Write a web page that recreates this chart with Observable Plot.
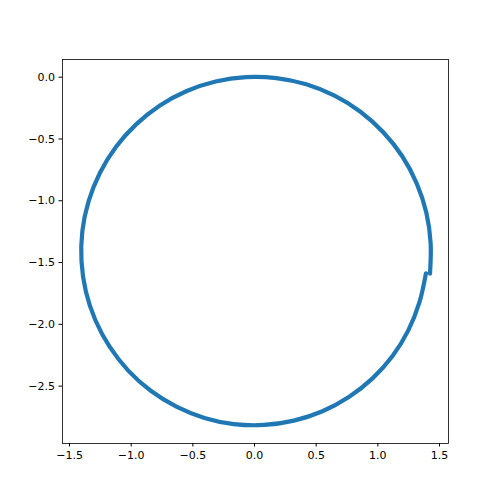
<!DOCTYPE html>
<html>
<head>
<meta charset="utf-8">
<script src="https://cdn.jsdelivr.net/npm/d3@7"></script>
<script src="https://cdn.jsdelivr.net/npm/@observablehq/plot@0.6"></script>
<style>
  html, body { margin: 0; padding: 0; background: #fff; }
</style>
</head>
<body>
<div id="chart"></div>
<script>
// Trajectory points (x, y)
const xs = [1.390, 1.337, 1.247, 1.119, 0.957, 0.765, 0.551, 0.319, 0.077, -0.167,
  -0.406, -0.633, -0.841, -1.024, -1.175, -1.291, -1.368, -1.403, -1.396, -1.345,
  -1.254, -1.124, -0.960, -0.767, -0.549, -0.315, -0.070, 0.177, 0.419, 0.649,
  0.859, 1.044, 1.198, 1.315, 1.393, 1.428, 1.423];
const ys = [-1.587, -1.823, -2.049, -2.256, -2.437, -2.588, -2.703, -2.779, -2.814, -2.807,
  -2.757, -2.666, -2.537, -2.374, -2.181, -1.965, -1.732, -1.489, -1.244, -1.003,
  -0.775, -0.565, -0.382, -0.229, -0.112, -0.035, 0.000, -0.008, -0.058, -0.150,
  -0.280, -0.446, -0.640, -0.859, -1.095, -1.341, -1.589];

const xTicks = [-1.5, -1.0, -0.5, 0.0, 0.5, 1.0, 1.5];
const yTicks = [0.0, -0.5, -1.0, -1.5, -2.0, -2.5];

const pts = xs.map((x, i) => ({x, y: ys[i]}));
const fmt = d => d.toFixed(1).replace("-", "\u2212");

const chart = Plot.plot({
  width: 498,
  height: 498,
  marginLeft: 62,
  marginRight: 50,
  marginTop: 59,
  marginBottom: 55,
  style: {fontFamily: "DejaVu Sans, sans-serif", fontSize: "11px", color: "black", background: "white"},
  x: {domain: [-1.557, 1.573], label: null},
  y: {domain: [-2.964, 0.143], label: null},
  marks: [
    Plot.line(pts, {x: "x", y: "y", stroke: "#1f77b4", strokeWidth: 4.2, curve: "catmull-rom"}),
    Plot.frame({stroke: "black", strokeWidth: 0.8}),
    Plot.axisX({ticks: xTicks, tickFormat: fmt, tickSize: 3.5, tickPadding: 4, label: null}),
    Plot.axisY({ticks: yTicks, tickFormat: fmt, tickSize: 3.5, tickPadding: 4, label: null})
  ]
});
document.getElementById("chart").appendChild(chart);
</script>
</body>
</html>
